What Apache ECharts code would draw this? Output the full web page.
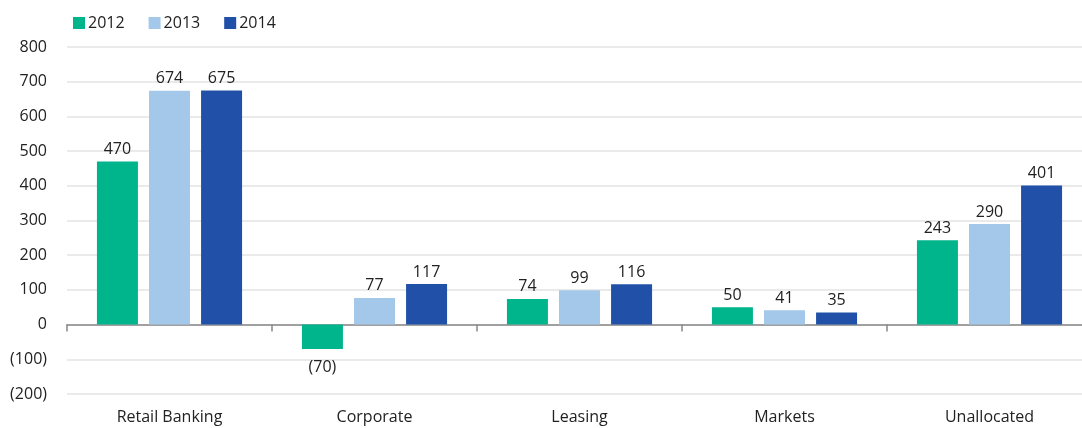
<!DOCTYPE html>
<html><head><meta charset="utf-8">
<script src="https://cdn.jsdelivr.net/npm/echarts@6/dist/echarts.min.js"></script>
<style>html,body{margin:0;padding:0;background:#fff}#c{width:1082px;height:428px}</style>
</head><body><div id="c"></div>
<script>
var categories = ["Retail Banking", "Corporate", "Leasing", "Markets", "Unallocated"];
var seriesNames = ["2012", "2013", "2014"];
var values2012 = [470, -70, 74, 50, 243];
var values2013 = [674, 77, 99, 41, 290];
var values2014 = [675, 117, 116, 35, 401];
var yTicks = [-200, -100, 0, 100, 200, 300, 400, 500, 600, 700, 800];
var colors = ["#00B48B", "#A3C8EA", "#2050A7"];
var FONT = "Open Sans";

function fmt(v){ return v < 0 ? "(" + Math.abs(v) + ")" : String(v); }
function toData(arr){
  return arr.map(function(v){
    return v < 0 ? {value: v, label: {position: "bottom", distance: 11}} : v;
  });
}
var all = [values2012, values2013, values2014];
var series = all.map(function(arr, i){
  return {
    name: seriesNames[i], type: "bar", xAxisIndex: 0, data: toData(arr),
    barWidth: 41, barGap: "27%",
    itemStyle: {color: colors[i]},
    label: {show: true, position: "top", distance: 4, color: "#222", fontFamily: FONT, fontSize: 16,
      formatter: function(p){ return fmt(p.value); }}
  };
});
var chart = echarts.init(document.getElementById("c"), null, {renderer: "canvas"});
chart.setOption({
  animation: false,
  textStyle: {fontFamily: FONT},
  legend: {left: 68, top: 10, itemWidth: 12, itemHeight: 12, itemGap: 24,
    icon: "rect", textStyle: {fontFamily: FONT, fontSize: 16, color: "#222", padding: [0,0,0,-2]},
    data: seriesNames},
  grid: {left: 67, width: 1025, top: 47, bottom: 34, containLabel: false, outerBoundsMode: "none"},
  xAxis: [
    {type: "category", data: categories, position: "bottom",
      axisLine: {show: false, onZero: false}, axisTick: {show: false},
      axisLabel: {fontFamily: FONT, fontSize: 16, color: "#222", margin: 15}},
    {type: "category", data: categories, position: "top",
      axisLine: {show: true, onZero: true, lineStyle: {color: "#888", width: 1.5}},
      axisTick: {show: true, inside: true, length: 7, lineStyle: {color: "#888", width: 1.5}},
      axisLabel: {show: false}}
  ],
  yAxis: {type: "value", min: yTicks[0], max: yTicks[yTicks.length-1], interval: 100,
    axisLine: {show: false}, axisTick: {show: false},
    splitLine: {lineStyle: {color: "#E3E3E3", width: 1.5}},
    axisLabel: {fontFamily: FONT, fontSize: 16, color: "#222", margin: 20, formatter: fmt}},
  series: series
});
</script></body></html>
